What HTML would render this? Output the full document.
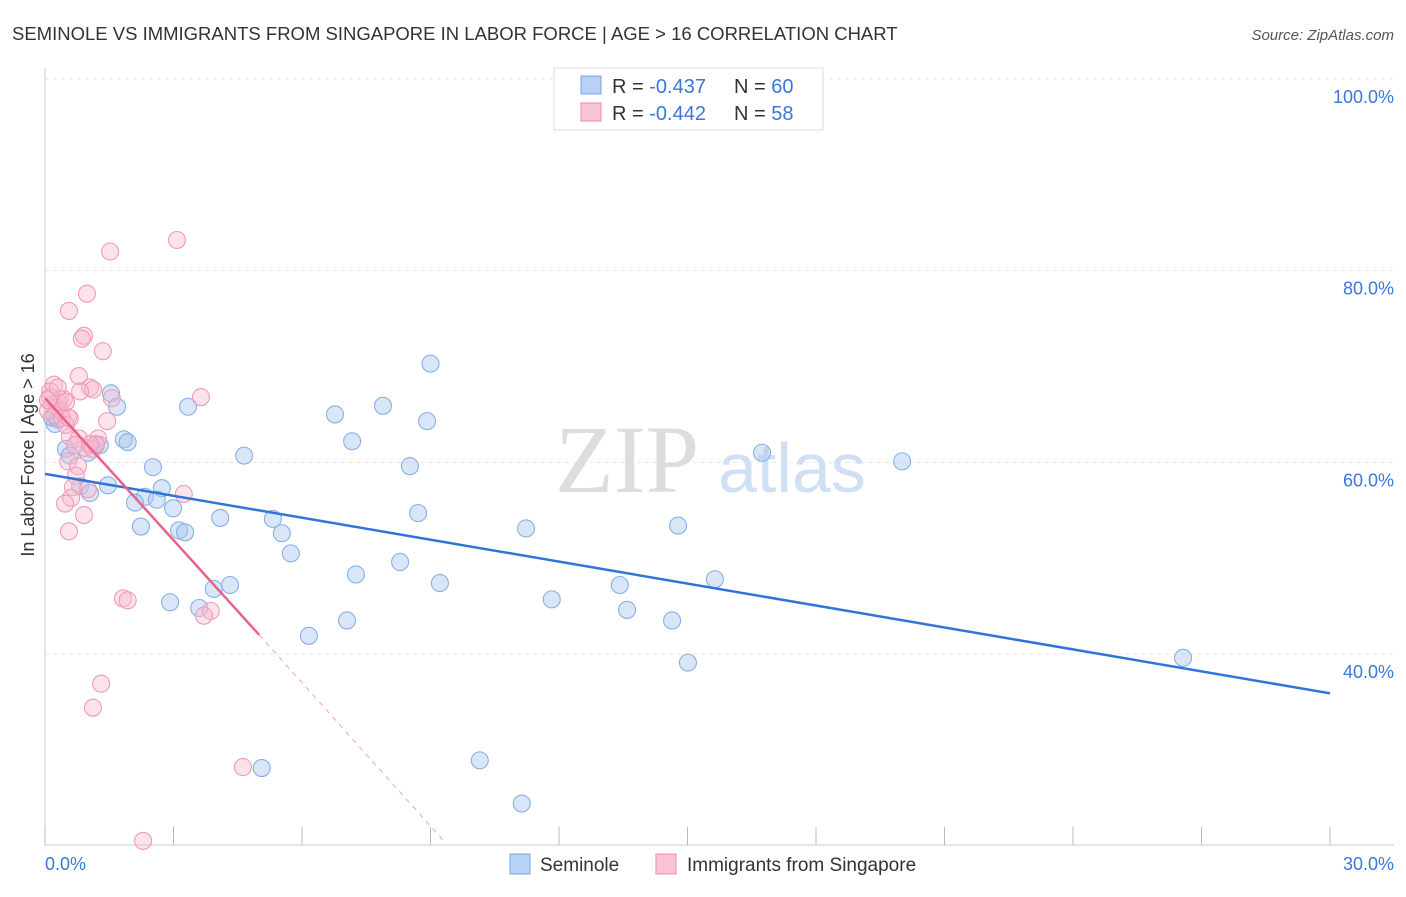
<!DOCTYPE html>
<html><head><meta charset="utf-8"><style>
body{margin:0;background:#fff;font-family:"Liberation Sans",sans-serif}
</style></head><body>
<svg width="1406" height="892" xmlns="http://www.w3.org/2000/svg">
<text x="12" y="40" font-size="18.5" fill="#333">SEMINOLE VS IMMIGRANTS FROM SINGAPORE IN LABOR FORCE | AGE &gt; 16 CORRELATION CHART</text>
<text x="1394" y="40" font-size="15" fill="#555" font-style="italic" text-anchor="end">Source: ZipAtlas.com</text>
<g id="grid"></g>
<text x="555" y="492" font-size="96" fill="#ddd" font-family="Liberation Serif,serif">ZIP</text>
<text x="718" y="492" font-size="70" fill="#cfe0f4">atlas</text>
<g id="pts"></g>
<g id="lines"></g>
<text transform="translate(34,455) rotate(-90)" font-size="18" fill="#333" text-anchor="middle">In Labor Force | Age &gt; 16</text>
<text x="45" y="870" font-size="18" fill="#3a78d8">0.0%</text>
<text x="1394" y="870" font-size="18" fill="#3a78d8" text-anchor="end">30.0%</text>
<g>
<rect x="554" y="68" width="269" height="62" fill="#fff" stroke="#ddd"/>
<rect x="581" y="76" width="20" height="18" fill="#b7d2f4" stroke="#7aa6e0"/>
<text x="612" y="93" font-size="20" fill="#333">R = <tspan fill="#3a78d8">-0.437</tspan></text>
<text x="734" y="93" font-size="20" fill="#333">N = <tspan fill="#3a78d8">60</tspan></text>
<rect x="581" y="103" width="20" height="18" fill="#f9c4d4" stroke="#f08aaa"/>
<text x="612" y="120" font-size="20" fill="#333">R = <tspan fill="#3a78d8">-0.442</tspan></text>
<text x="734" y="120" font-size="20" fill="#333">N = <tspan fill="#3a78d8"> 58</tspan></text>
</g>
<g>
<rect x="510" y="854" width="20" height="20" fill="#b7d2f4" stroke="#7aa6e0"/>
<text x="540" y="871" font-size="19" fill="#333">Seminole</text>
<rect x="656" y="854" width="20" height="20" fill="#f9c4d4" stroke="#f08aaa"/>
<text x="687" y="871" font-size="19" fill="#333">Immigrants from Singapore</text>
</g>
</svg>
<script>
const yTicks=[100,80,60,40];
const xTicks=[0,3,6,9,12,15,18,21,24,27,30];
const blueX=[9.0,1.54,1.68,3.34,6.77,7.89,8.92,7.17,1.84,1.93,1.19,0.49,0.58,4.65,2.52,8.52,16.74,20.01,1.47,0.82,1.05,2.73,2.33,2.1,2.61,2.99,4.09,5.32,5.53,2.24,3.13,3.27,8.71,11.23,14.78,5.74,8.29,7.26,9.22,4.32,3.94,13.42,15.64,11.83,2.92,3.6,13.59,7.05,14.64,6.16,15.01,26.57,5.06,10.15,11.13,0.23,0.16,0.3,1.28,1.0];
const blueY=[70.3,67.2,65.8,65.8,65.0,65.9,64.3,62.2,62.4,62.1,61.8,61.4,60.7,60.7,59.5,59.6,61.0,60.1,57.6,57.5,56.8,57.3,56.4,55.8,56.1,55.2,54.2,54.1,52.6,53.3,52.9,52.7,54.7,53.1,53.4,50.5,49.6,48.3,47.4,47.2,46.8,47.2,47.8,45.7,45.4,44.8,44.6,43.5,43.5,41.9,39.1,39.6,28.1,28.9,24.4,64.0,64.7,64.5,61.8,61.0];
const pinkX=[1.52,3.08,0.98,0.56,0.91,0.86,1.35,0.79,0.21,0.12,1.05,1.12,1.56,3.64,0.35,0.44,0.16,0.28,0.07,0.37,0.54,0.23,1.45,0.58,0.79,1.24,0.93,1.12,0.54,0.77,0.72,1.0,0.65,0.61,0.47,0.91,0.56,1.82,1.93,3.24,3.87,3.71,1.31,1.12,4.62,2.29,0.4,0.3,0.12,0.7,0.49,0.3,1.19,0.07,0.49,0.82,0.58,1.05];
const pinkY=[82.0,83.2,77.6,75.8,73.2,72.9,71.6,69.0,68.1,67.4,67.8,67.6,66.7,66.8,66.6,66.6,66.0,65.7,65.4,65.3,64.7,64.9,64.3,62.7,62.5,62.5,61.5,61.4,60.1,59.6,58.6,57.2,57.4,56.3,55.7,54.5,52.8,45.8,45.6,56.7,44.5,44.0,36.9,34.4,28.2,20.5,64.6,66.3,66.8,61.8,63.9,67.8,61.9,66.5,66.3,67.4,64.6,61.9];
const X0=45,X1=1330,Y100=79,PER=191.67/20;
const sx=v=>X0+v/30*(X1-X0), sy=v=>Y100+(100-v)*PER;
const NS="http://www.w3.org/2000/svg";
function mk(t,a,p){const e=document.createElementNS(NS,t);for(const k in a)e.setAttribute(k,a[k]);p.appendChild(e);return e;}
const grid=document.getElementById('grid');
mk('line',{x1:45,y1:68,x2:45,y2:845,stroke:'#ccc'},grid);
mk('line',{x1:45,y1:845,x2:1394,y2:845,stroke:'#ccc'},grid);
yTicks.forEach(t=>{
 const l=mk('line',{x1:45,x2:1394,y1:sy(t),y2:sy(t),stroke:'#e6e6e6','stroke-dasharray':'4,4'},grid);
 
 
 const tx=mk('text',{x:1394,y:sy(t)+24,'font-size':18,fill:'#3a78d8','text-anchor':'end'},grid);
 tx.textContent=t.toFixed(1)+'%';
 
 
});
xTicks.forEach(t=>{
 const l=mk('line',{x1:sx(t),x2:sx(t),y1:827,y2:845,stroke:'#bbb'},grid);
 
 
});
const pts=document.getElementById('pts');
blueX.forEach((v,i)=>{
 const c=mk('circle',{cx:sx(v),cy:sy(blueY[i]),r:8.5,fill:'rgba(168,200,240,0.45)',stroke:'#86b0e6','stroke-width':1.1},pts);
 
 
});
pinkX.forEach((v,i)=>{
 const c=mk('circle',{cx:sx(v),cy:sy(pinkY[i]),r:8.5,fill:'rgba(248,184,204,0.4)',stroke:'#f29ab6','stroke-width':1.1},pts);
 
 
});
const lines=document.getElementById('lines');
const bl=mk('line',{x1:sx(0),y1:sy(58.8),x2:sx(30),y2:sy(35.9),stroke:'#2f74d6','stroke-width':2.5},lines);


const pl=mk('line',{x1:sx(0),y1:sy(66.7),x2:sx(5.0),y2:sy(42.0),stroke:'#e8628e','stroke-width':2.5},lines);


const pd=mk('line',{x1:sx(5.0),y1:sy(42.0),x2:sx(9.35),y2:sy(20.3),stroke:'#f0a0b8','stroke-width':1,'stroke-dasharray':'5,5'},lines);


</script>
</body></html>
